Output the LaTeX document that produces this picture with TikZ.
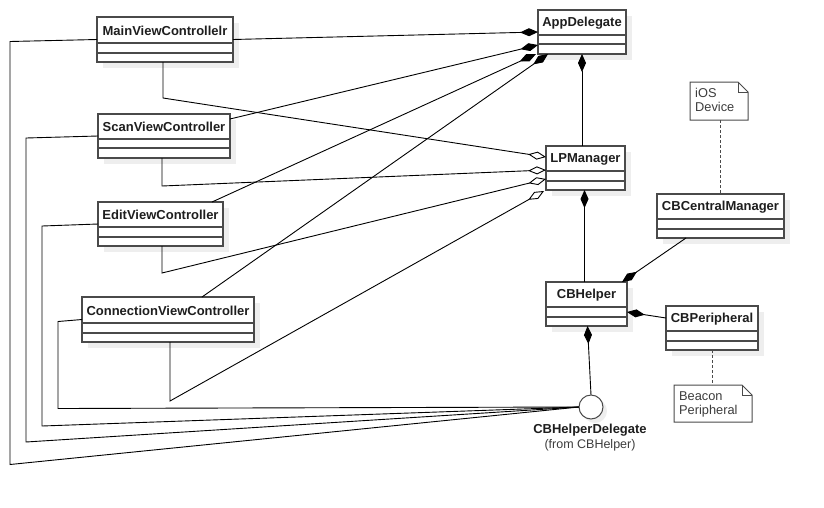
\documentclass[tikz,border=0pt]{standalone}
\usepackage{fontspec}
\setmainfont{Liberation Sans}
\usetikzlibrary{arrows.meta}
\definecolor{boxc}{HTML}{4A4A4A}
\definecolor{shadowc}{HTML}{EEEEEE}
\definecolor{txtc}{HTML}{1E1E1E}
\definecolor{notec}{HTML}{3C3C3C}
\tikzset{
  clsbox/.style={draw=boxc, line width=1.3pt, fill=white, inner sep=0pt, outer sep=0pt, rectangle},
  boxline/.style={draw=boxc, line width=1.3pt},
  clstext/.style={font=\fontsize{13}{15}\selectfont\bfseries, text=txtc, inner sep=0pt},
  conn/.style={draw=black, line width=0.9pt},
  comp/.style={conn, -{Diamond[length=18pt,width=8pt]}},
  aggr/.style={conn, -{Diamond[length=18pt,width=8pt,fill=white]}},
  notedash/.style={draw=boxc, line width=1pt, dash pattern=on 3pt off 2pt},
  notetext/.style={font=\fontsize{12.8}{13.5}\selectfont, text=notec, align=left, inner sep=0pt, anchor=north west},
}
\newcommand{\umlcls}[8]{%
  \fill[shadowc] (#2+6,#3+6) rectangle (#4+6,#5+6);
  \node[clsbox, minimum width={(#4-#2)*1pt}, minimum height={(#5-#3)*1pt}, anchor=north west] (#1) at (#2,#3) {};
  \draw[boxline] (#2,#6) -- (#4,#6) (#2,#7) -- (#4,#7);
  \node[clstext] at ({(#2+#4)/2},{(#3+#6)/2+0.5}) {#8};
}
\newcommand{\umlnote}[6]{% name x1 y1 x2 y2 text
  \node[inner sep=0pt, outer sep=0pt, minimum width={(#4-#2)*1pt}, minimum height={(#5-#3)*1pt}, anchor=north west] (#1) at (#2,#3) {};
  \draw[boxc, line width=1pt, fill=white] (#2,#3) -- (#4-10,#3) -- (#4,#3+10) -- (#4,#5) -- (#2,#5) -- cycle;
  \draw[boxc, line width=1pt] (#4-10,#3) -- (#4-10,#3+10) -- (#4,#3+10);
  \node[notetext] at (#2+5,#3+6.5) {#6};
}
\begin{document}
\begin{tikzpicture}[x=1pt,y=-1pt]
\useasboundingbox (0,0) rectangle (824,507);
% classes
\umlcls{mvc}{97}{17}{233}{62}{43}{53}{MainViewControllelr}
\umlcls{app}{538}{10}{626}{54}{35}{44}{AppDelegate}
\umlcls{svc}{98}{114}{230}{158}{139}{148}{ScanViewController}
\umlcls{lpm}{546}{146}{625}{190}{171}{181}{LPManager}
\umlcls{evc}{98}{202}{223}{246}{227}{237}{EditViewController}
\umlcls{cbc}{657}{194}{784}{238}{219}{229}{CBCentralManager}
\umlcls{cbh}{546}{282}{627}{326}{307}{317}{CBHelper}
\umlcls{cvc}{82}{297}{254}{342}{323}{333}{ConnectionViewController}
\umlcls{cbp}{666}{306}{758}{350}{331}{341}{CBPeripheral}
% notes
\umlnote{ios}{690}{82}{748}{120}{iOS\\Device}
\umlnote{bcn}{674}{385}{752}{422}{Beacon\\Peripheral}
% interface circle
\fill[shadowc] (595,411) circle (12);
\node[circle, draw=boxc, line width=1pt, fill=white, minimum size=24pt, inner sep=0pt, outer sep=0pt] (circ) at (591,407) {};
\node[font=\fontsize{13}{15}\selectfont\bfseries, text=txtc, inner sep=0pt] (circlbl) at (590,430) {CBHelperDelegate};
\node[font=\fontsize{12.5}{14}\selectfont, text=notec, inner sep=0pt] (circsub) at (590,445) {(from CBHelper)};
% note links
\draw[notedash] (ios.south -| cbc.north) -- (cbc.north);
\draw[notedash] (cbp.south) -- (cbp.south |- bcn.north);
% compositions to AppDelegate
\draw[comp] (mvc.east) -- (app.west);
\draw[comp] ([yshift=-5pt]svc.north east) -- ([yshift=-13pt]app.west);
\draw[comp] ([xshift=-11pt]evc.north east) -- ([xshift=-2pt]app.south west);
\draw[comp] ([xshift=34pt]cvc.north) -- ([xshift=10pt]app.south west);
% AppDelegate - LPManager, LPManager - CBHelper
\draw[comp] (app.south |- lpm.north) -- (app.south);
\draw[comp] ([xshift=-1pt]lpm.south |- cbh.north) -- ([xshift=-1pt]lpm.south);
\draw[comp] ([xshift=-34.5pt]cbc.south) -- ([xshift=-5pt]cbh.north east);
\draw[comp] ([yshift=-12pt]cbp.north west) -- ([yshift=-8pt]cbh.east);
\draw[comp] (circ.north) -- ([xshift=1pt]cbh.south);
% aggregations to LPManager
\draw[aggr] ([xshift=-2pt]mvc.south) -- ++(0,36) -- ([yshift=-11pt]lpm.north west);
\draw[aggr] ([xshift=-2pt]svc.south) -- ++(0,28) -- ([yshift=-24pt]lpm.north west);
\draw[aggr] ([xshift=1.5pt]evc.south) -- ++(0,27) -- ([yshift=-33pt]lpm.north west);
\draw[aggr] ([xshift=2pt]cvc.south) -- ++(0,59) -- ([xshift=-2pt,yshift=-1pt]lpm.south west);
% dependencies to CBHelperDelegate
\draw[conn] (mvc.west) -- ++(-87,2) -- ++(0,423) -- (circ.west);
\draw[conn] (svc.west) -- ++(-72,2) -- ++(0,304) -- (circ.west);
\draw[conn] (evc.west) -- ++(-56,2) -- ++(0,200) -- (circ.west);
\draw[conn] (cvc.west) -- ++(-24,2) -- ++(0,87) -- (circ.west);
\end{tikzpicture}
\end{document}
